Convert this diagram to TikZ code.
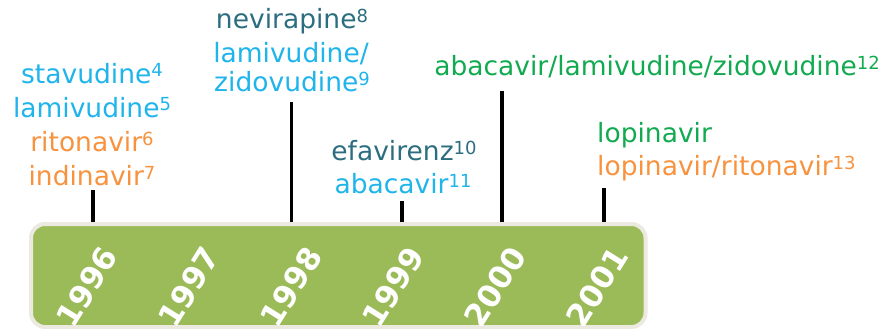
\documentclass[tikz,border=0pt]{standalone}
\usepackage{fontspec}
\setmainfont{DejaVu Sans}
\definecolor{drugblue}{HTML}{1FB4EA}
\definecolor{drugorange}{HTML}{F7923F}
\definecolor{drugteal}{HTML}{2C6E80}
\definecolor{druggreen}{HTML}{12AA50}
\definecolor{barfill}{HTML}{9BBB59}
\definecolor{baredge}{HTML}{ECE9E0}
\newcommand\refmark[1]{\raisebox{6pt}{\fontsize{18}{18}\selectfont #1}}
\begin{document}
\begin{tikzpicture}[x=1pt,y=-1pt,
  drug/.style={anchor=base,inner sep=0pt,font=\fontsize{26.5}{30}\selectfont},
  drugL/.style={drug,anchor=base west},
  yearlabel/.style={rotate=58,inner sep=0pt,text=white,font=\fontsize{31}{31}\bfseries},
  tick/.style={line width=3.5pt,black}]
\useasboundingbox (0,0) rectangle (894,329);

% timeline bar
\draw[line width=4pt,draw=baredge,fill=barfill,rounded corners=14pt]
  (31,224) rectangle (645.5,327);

% year labels, kept inside the bar
\begin{scope}
  \clip[rounded corners=12pt] (33,226) rectangle (643.5,325);
  \node[yearlabel] (y1996) at (87,287) {1996};
  \node[yearlabel] (y1997) at (189,287) {1997};
  \node[yearlabel] (y1998) at (291,287) {1998};
  \node[yearlabel] (y1999) at (393,287) {1999};
  \node[yearlabel] (y2000) at (495,287) {2000};
  \node[yearlabel] (y2001) at (597,287) {2001};
\end{scope}

% tick marks
\coordinate (b1996) at (93,222);   \coordinate (t1996) at (93,190);
\coordinate (b1998) at (291.5,222); \coordinate (t1998) at (291.5,102);
\coordinate (b1999) at (402,222);  \coordinate (t1999) at (402,201);
\coordinate (b2000) at (502,222);  \coordinate (t2000) at (502,91);
\coordinate (b2001) at (604,222);  \coordinate (t2001) at (604,188);
\foreach \yr in {1996,1998,1999,2000,2001}
  \draw[tick] (b\yr) -- (t\yr);

% 1996
\node[drug,text=drugblue]   (stav) at (92,83)  {stavudine\refmark{4}};
\node[drug,text=drugblue]   (lami) at (92,117) {lamivudine\refmark{5}};
\node[drug,text=drugorange] (rito) at (92,151) {ritonavir\refmark{6}};
\node[drug,text=drugorange] (indi) at (92,185) {indinavir\refmark{7}};

% 1998
\node[drug,text=drugteal]   (nevi) at (292,29) {nevirapine\refmark{8}};
\node[drug,text=drugblue]   (lamz1) at (291,63) {lamivudine/};
\node[drug,text=drugblue]   (lamz2) at (292,92) {zidovudine\refmark{9}};

% 1999
\node[drug,text=drugteal]   (efav) at (404,160) {efavirenz\refmark{10}};
\node[drug,text=drugblue]   (abac) at (403,193) {abacavir\refmark{11}};

% 2000
\node[drug,text=druggreen]  (trizi) at (657,76) {abacavir/lamivudine/zidovudine\refmark{12}};

% 2001
\node[drugL,text=druggreen]  (lopi) at (597,142) {lopinavir};
\node[drugL,text=drugorange] (lopr) at (597,175) {lopinavir/ritonavir\refmark{13}};
\end{tikzpicture}
\end{document}
